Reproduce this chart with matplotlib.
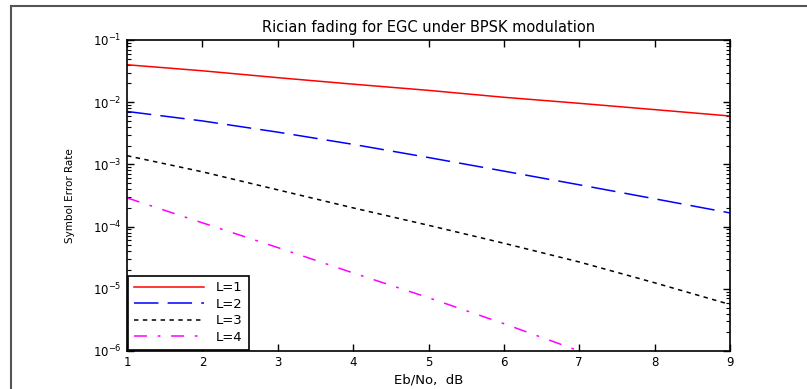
import matplotlib
matplotlib.use("Agg")
import matplotlib.pyplot as plt
import matplotlib.lines as mlines
from matplotlib.ticker import LogLocator, NullFormatter

plt.rcParams["font.family"] = ["DejaVu Sans"]

# Eb/No (dB) and symbol error rates
ebno = [1, 2, 3, 4, 5, 6, 7, 8, 9]
ser_l1 = [0.040, 0.032, 0.0248, 0.0195, 0.0155, 0.0120, 0.0096, 0.0076, 0.0060]
ser_l2 = [7.1e-3, 5.0e-3, 3.3e-3, 2.1e-3, 1.29e-3, 7.8e-4, 4.7e-4, 2.8e-4, 1.66e-4]
ser_l3 = [1.38e-3, 7.6e-4, 3.9e-4, 2.0e-4, 1.05e-4, 5.4e-5, 2.7e-5, 1.25e-5, 5.6e-6]
ebno_l4 = [1, 2, 3, 4, 5, 6, 7]
ser_l4 = [2.9e-4, 1.15e-4, 4.6e-5, 1.8e-5, 7.2e-6, 2.75e-6, 1.0e-6]

labels = ["L=1", "L=2", "L=3", "L=4"]
xticks = [1, 2, 3, 4, 5, 6, 7, 8, 9]

fig = plt.figure(figsize=(8.07, 3.89), dpi=100)
ax = fig.add_axes([127 / 807, 1 - 351 / 389, 603 / 807, 311 / 389])

ax.semilogy(ebno, ser_l1, color="#ff0000", linewidth=1.1, label=labels[0])
ax.semilogy(ebno, ser_l2, color="#0000ff", linewidth=1.1, dashes=(16, 6), label=labels[1])
ax.semilogy(ebno, ser_l3, color="black", linewidth=1.1, dashes=(2.9, 2.9), label=labels[2])
ax.semilogy(ebno_l4, ser_l4, color="#ff00ff", linewidth=1.1, dashes=(8.5, 7, 1.8, 7), label=labels[3])

ax.set_xlim(1, 9)
ax.set_ylim(1e-6, 1e-1)
ax.set_xticks(xticks)
ax.yaxis.set_major_locator(LogLocator(base=10, numticks=10))
ax.yaxis.set_minor_locator(LogLocator(base=10, subs=range(2, 10), numticks=10))
ax.yaxis.set_minor_formatter(NullFormatter())
ax.tick_params(which="both", direction="in", top=True, right=True, labelsize=8.5)
ax.tick_params(which="major", length=5, width=1)
ax.tick_params(which="minor", length=3, width=0.8)
ax.tick_params(axis="y", pad=4)
for s in ax.spines.values():
    s.set_linewidth(1.2)

ax.set_title("Rician fading for EGC under BPSK modulation", fontsize=10.5, pad=6)
ax.set_xlabel("Eb/No,  dB", fontsize=9.5, labelpad=3)
ax.set_ylabel("Symbol Error Rate", fontsize=7.5, labelpad=13)

leg = ax.legend(loc="lower left", fontsize=9.5, fancybox=False, framealpha=1,
                edgecolor="black", handlelength=5.3, borderaxespad=0.1,
                borderpad=0.45, labelspacing=0.26, handletextpad=0.9)
leg.get_frame().set_linewidth(1.2)

# outer frame of the original figure window
fig.add_artist(mlines.Line2D([11 / 807, 11 / 807], [0, 1 - 6 / 389],
                             color="#555555", linewidth=1.5, transform=fig.transFigure))
fig.add_artist(mlines.Line2D([11 / 807, 1], [1 - 6 / 389, 1 - 6 / 389],
                             color="#555555", linewidth=1.5, transform=fig.transFigure))

fig.savefig("out.png", dpi=100)
